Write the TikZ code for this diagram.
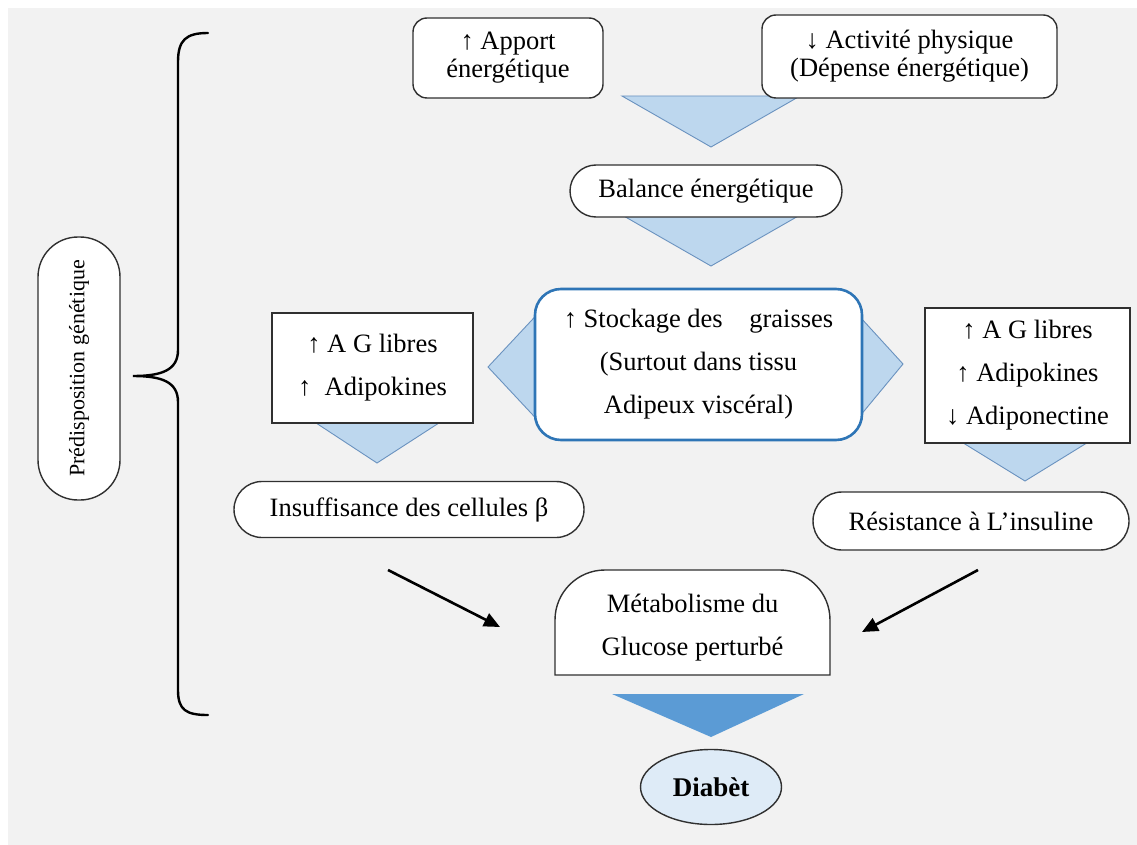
\documentclass[tikz,border=0pt]{standalone}
\usepackage{fontspec}
\setmainfont{Liberation Serif}
\usetikzlibrary{arrows.meta,shapes.geometric,shapes.misc}
\definecolor{bg}{HTML}{F2F2F2}
\definecolor{trifill}{HTML}{BDD7EE}
\definecolor{tridraw}{HTML}{6A92BF}
\definecolor{darktri}{HTML}{5B9BD5}
\definecolor{stockblue}{HTML}{2E75B6}
\definecolor{ellfill}{HTML}{DEEBF7}
\definecolor{boxline}{HTML}{303030}
\begin{document}
\begin{tikzpicture}[x=1pt,y=-1pt,
  rbox/.style={draw=boxline, line width=1.4, fill=white, align=center, inner sep=0pt},
  tight/.style={font=\fontsize{26.5}{28}\selectfont},
  loose/.style={font=\fontsize{26.5}{43}\selectfont},
  lighttri/.style={fill=trifill, draw=tridraw, line width=0.9},
  bigarrow/.style={line width=2.6, -{Triangle[length=16,width=14]}},
]
\useasboundingbox (0,0) rectangle (1137,845);
\fill[bg] (8,8) rectangle (1137,845);

% light triangles (behind boxes)
\filldraw[lighttri] (622,96) -- (800,96) -- (711,147) -- cycle;
\filldraw[lighttri] (622,215) -- (800,215) -- (711,266) -- cycle;
\filldraw[lighttri] (545,306) -- (488,367) -- (545,428) -- cycle;
\filldraw[lighttri] (850,306) -- (903,364) -- (850,428) -- cycle;
\filldraw[lighttri] (313,421) -- (442,421) -- (377,463) -- cycle;
\filldraw[lighttri] (960,441) -- (1090,441) -- (1025,481) -- cycle;
\fill[darktri] (612,694) -- (804,694) -- (711,737) -- cycle;

% brace
\draw[line width=2.4, line cap=round] (208,33) .. controls (186,33) and (178,40) .. (178,62) -- (178,350)
  .. controls (178,370) and (162,376) .. (133,376)
  .. controls (162,376) and (178,382) .. (178,402) -- (178,690)
  .. controls (178,710) and (186,715) .. (208,715);

% nodes
\node[rbox, rotate=90, minimum width=263, minimum height=82, rounded corners=40,
  font=\fontsize{22}{25}\selectfont] (pred) at (79,368.5) {Prédisposition génétique};

\node[rbox, tight, minimum width=190, minimum height=80, rounded corners=14] (apport) at (508,58) {↑ Apport\\énergétique};
\node[rbox, tight, minimum width=295, minimum height=83, rounded corners=14] (activ) at (909.5,56.5) {↓ Activité physique\\(Dépense énergétique)};
\node[rbox, tight, minimum width=272, minimum height=52, rounded corners=26] (balance) at (706,191) {Balance énergétique};
\node[rbox, loose, draw=stockblue, line width=2.6, minimum width=327, minimum height=151, rounded corners=26] (stock) at (698.5,364.5)
  {↑ Stockage des\quad graisses\\(Surtout dans tissu\\Adipeux viscéral)};
\node[rbox, loose, minimum width=201, minimum height=110, rounded corners=0] (agl) at (372.5,368) {↑ A G libres\\↑\ \ Adipokines};
\node[rbox, loose, minimum width=205, minimum height=135, rounded corners=0] (agr) at (1027.5,375.5) {↑ A G libres\\↑ Adipokines\\↓ Adiponectine};
\node[rbox, tight, minimum width=350, minimum height=56, rounded corners=28] (insuf) at (409,509.5) {Insuffisance des cellules β};
\node[rbox, tight, minimum width=316, minimum height=58, rounded corners=29] (resist) at (971,521) {Résistance à L’insuline};

% Metabolisme shape
\draw[draw=boxline, line width=1.4, fill=white] (555,675) -- (555,620) arc[start angle=180, end angle=270, radius=50]
  -- (780,570) arc[start angle=270, end angle=360, radius=50] -- (830,675) -- cycle;
\node[align=center, loose, inner sep=0pt] (metab) at (692.5,628) {Métabolisme du\\Glucose perturbé};

\node[draw=boxline, line width=1.4, fill=ellfill, ellipse, minimum width=141, minimum height=75, inner sep=0pt,
  font=\fontsize{27}{30}\selectfont\bfseries] (diab) at (711,787) {Diabèt};

% arrows
\coordinate (la) at (388,570);
\coordinate (lb) at (500,627);
\coordinate (ra) at (978,570);
\coordinate (rb) at (862,632);
\draw[bigarrow] (la) -- (lb);
\draw[bigarrow] (ra) -- (rb);
\end{tikzpicture}
\end{document}
